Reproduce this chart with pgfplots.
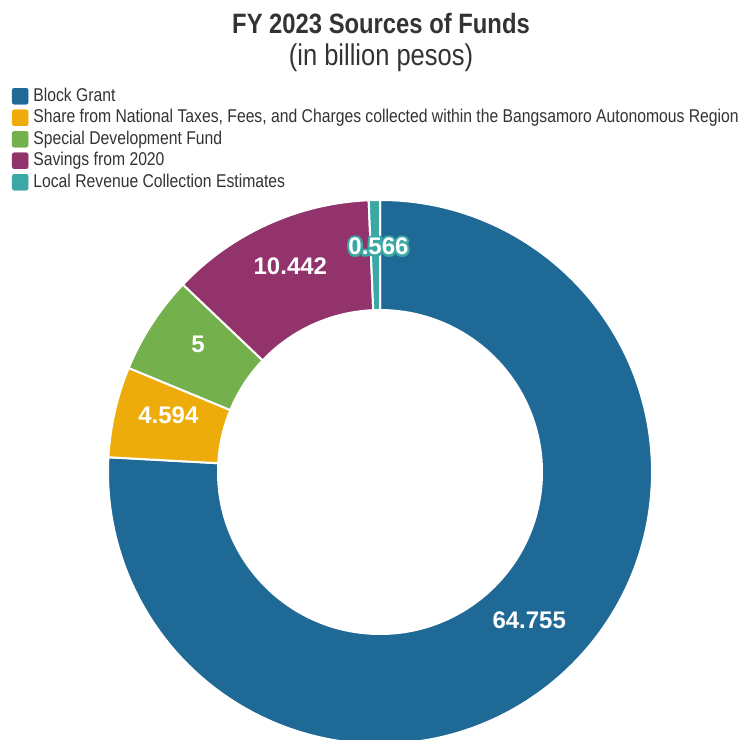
\documentclass[border=0pt]{standalone}
\usepackage{fontspec}
\setmainfont{Liberation Sans}[FakeStretch=0.85]
\newfontfamily\labelfont{Liberation Sans}
\usepackage{pgfplots}
\pgfplotsset{compat=1.18}
\usepackage{pgfplotstable}

\definecolor{cBlock}{HTML}{1F6996}
\definecolor{cShare}{HTML}{EEAC0A}
\definecolor{cSpecial}{HTML}{74B04B}
\definecolor{cSavings}{HTML}{93336C}
\definecolor{cLocal}{HTML}{3CA8A6}
\definecolor{txt}{HTML}{333333}

% outline-only glyphs (pdf text render mode 1), used for the halo of a label
\newcommand\stroked[1]{\special{pdf:literal direct 1 Tr 4.6 w 1 j 1 J}#1\special{pdf:literal direct 0 Tr 0.4 w 0 j 0 J}}

% sources of funds, billion pesos; dx/dy nudge the value labels
\pgfplotstableread{
value  colour   dx dy
64.755 cBlock    0  9
4.594  cShare    0  9
5      cSpecial  0  9
10.442 cSavings  0  8
0.566  cLocal    3  9
}\funds

\begin{document}
\begin{tikzpicture}
\useasboundingbox (0,0) rectangle (743bp,740bp);
\begin{axis}[hide axis, scale only axis, width=743bp, height=740bp,
    xmin=0, xmax=743, ymin=0, ymax=740, clip=true,
    legend cell align=left,
    legend image code/.code={\fill[#1,rounded corners=2bp] (0bp,-8bp) rectangle (16bp,8bp);},
    legend style={at={(axis cs:12,652)}, anchor=north west, draw=none, fill=none,
        inner sep=0pt, outer sep=0pt, row sep=5bp,
        font=\fontsize{18.5bp}{21bp}\selectfont, text=txt,
        nodes={inner sep=0pt, text height=13bp, text depth=3.5bp},
        /tikz/every odd column/.append style={column sep=5bp}}]

    \addlegendimage{cBlock}
    \addlegendentry{Block Grant}
    \addlegendimage{cShare}
    \addlegendentry{Share from National Taxes, Fees, and Charges collected within the Bangsamoro Autonomous Region}
    \addlegendimage{cSpecial}
    \addlegendentry{Special Development Fund}
    \addlegendimage{cSavings}
    \addlegendentry{Savings from 2020}
    \addlegendimage{cLocal}
    \addlegendentry{Local Revenue Collection Estimates}

    \node[font=\fontsize{28bp}{30bp}\selectfont\bfseries, text=txt, anchor=base]
        at (axis cs:381,706) {FY 2023 Sources of Funds};
    \node[font=\fontsize{30bp}{32bp}\selectfont, text=txt, anchor=base]
        at (axis cs:381,674) {(in billion pesos)};

    \def\total{0}
    \pgfplotsforeachungrouped \i in {0,...,4} {
        \pgfplotstablegetelem{\i}{value}\of\funds
        \pgfmathsetmacro\total{\total+\pgfplotsretval}
    }
    \def\cum{0}
    \pgfplotsforeachungrouped \i in {0,...,4} {
        \pgfplotstablegetelem{\i}{value}\of\funds \let\val\pgfplotsretval
        \pgfplotstablegetelem{\i}{colour}\of\funds \let\col\pgfplotsretval
        \pgfmathsetmacro\aS{90-\cum/\total*360}
        \pgfmathsetmacro\aE{90-(\cum+\val)/\total*360}
        \edef\sector{\noexpand\fill[\col, draw=white, line width=2bp]
            (axis cs:380,268) ++(\aS:272bp)
            arc[start angle=\aS, end angle=\aE, radius=272bp]
            -- ++(\aE+180:110bp)
            arc[start angle=\aE, end angle=\aS, radius=162bp] -- cycle;}
        \sector
        \pgfmathsetmacro\cum{\cum+\val}
    }
    % value labels drawn on top of all sectors
    \def\cum{0}
    \pgfplotsforeachungrouped \i in {0,...,4} {
        \pgfplotstablegetelem{\i}{value}\of\funds \let\val\pgfplotsretval
        \pgfplotstablegetelem{\i}{colour}\of\funds \let\col\pgfplotsretval
        \pgfplotstablegetelem{\i}{dx}\of\funds \let\dx\pgfplotsretval
        \pgfplotstablegetelem{\i}{dy}\of\funds \let\dy\pgfplotsretval
        \pgfmathsetmacro\aM{90-(\cum+\val/2)/\total*360}
        \pgfmathsetmacro\lx{380+217*cos(\aM)+\dx}
        \pgfmathsetmacro\ly{268+217*sin(\aM)+\dy}
        \ifnum\i=4
            \edef\halo{\noexpand\node[font=\noexpand\labelfont\noexpand\bfseries\noexpand\fontsize{24bp}{26bp}\noexpand\selectfont,
                text=\col, text depth=0pt] at (axis cs:\lx,\ly) {\noexpand\stroked{\val}};}
            \halo
        \fi
        \edef\lab{\noexpand\node[font=\noexpand\labelfont\noexpand\bfseries\noexpand\fontsize{24bp}{26bp}\noexpand\selectfont,
            text=white, text depth=0pt] at (axis cs:\lx,\ly) {\val};}
        \lab
        \pgfmathsetmacro\cum{\cum+\val}
    }
\end{axis}
\end{tikzpicture}
\end{document}
